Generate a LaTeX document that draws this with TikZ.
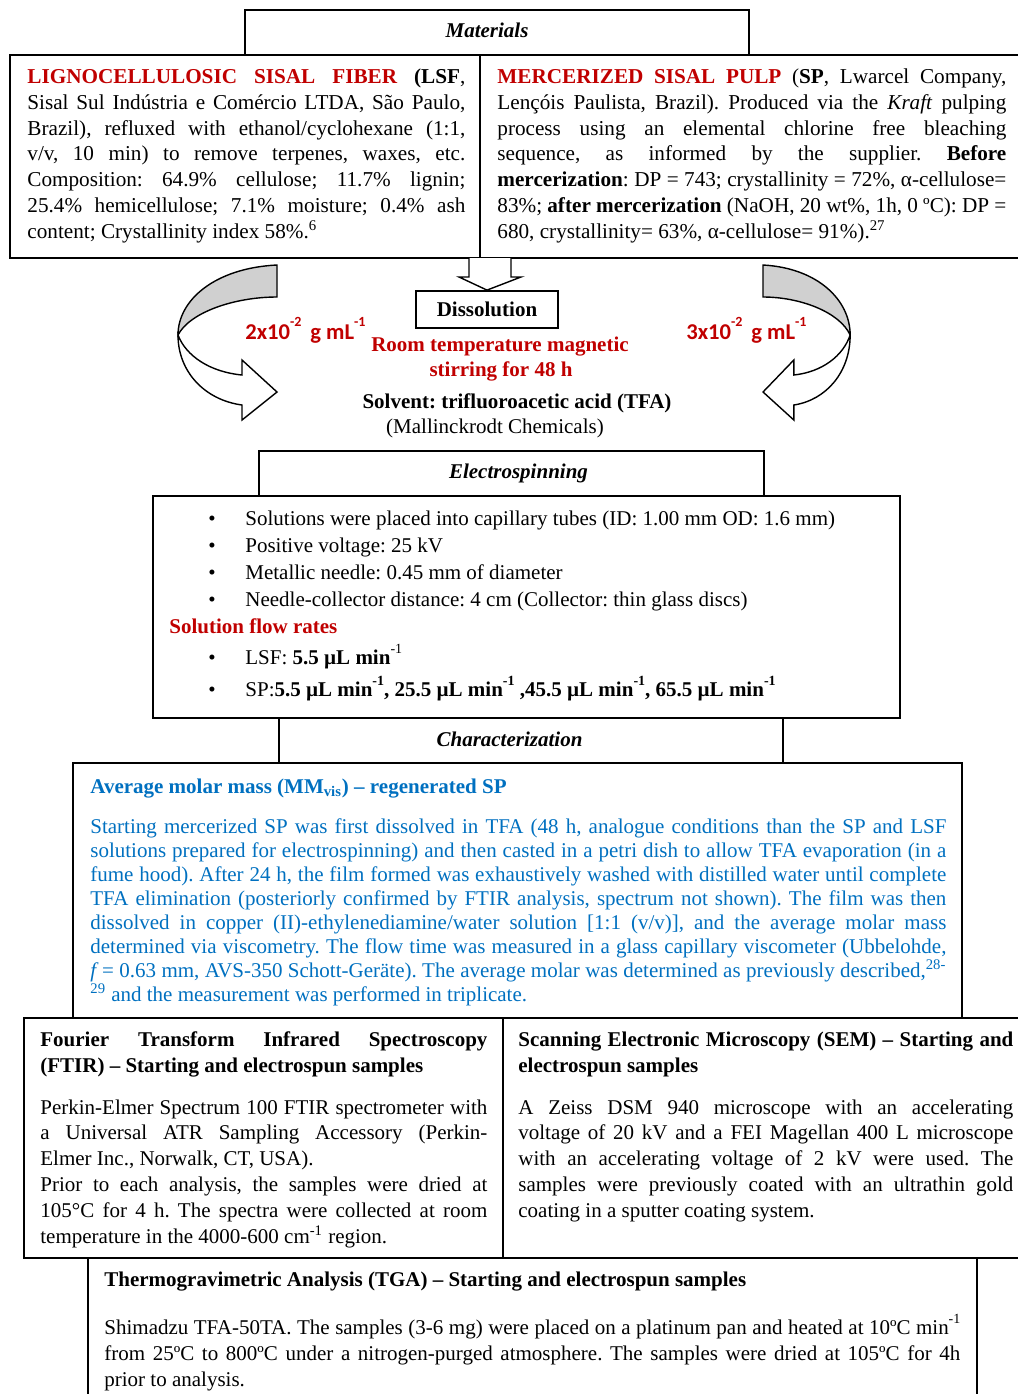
\documentclass[tikz,border=0pt]{standalone}
\usepackage{fontspec}
\setmainfont{Liberation Serif}
\newfontfamily\calfont{Carlito}
\usepackage{tikz}
\usetikzlibrary{calc}

\definecolor{matred}{RGB}{192,0,0}
\definecolor{charblue}{RGB}{0,112,192}
\definecolor{backgray}{RGB}{208,208,208}

\frenchspacing
\newcommand{\bodysize}{\fontsize{10.5}{12.9}\selectfont}
\newcommand{\hsup}[1]{\raisebox{1.1ex}{\scriptsize #1}}

\tikzset{
  frame/.style={draw, line width=0.9pt},
  para/.style={anchor=base west, inner sep=0pt, align=justify, font=\bodysize},
  txt/.style={anchor=base west, inner sep=0pt, font=\bodysize},
  head/.style={anchor=base, inner sep=0pt, font=\bodysize\bfseries\itshape},
  redtxt/.style={anchor=base, inner sep=0pt, text=matred, font=\bodysize\bfseries},
  conc/.style={anchor=base west, inner sep=0pt, text=matred, font={\calfont\bfseries\fontsize{11.3}{13}\selectfont}},
  twist/.pic={
    \filldraw[fill=backgray, line width=0.7pt] (277,265) .. controls (215,268) and (178,300) .. (178,335)
        .. controls (190,312) and (235,297) .. (277,297) -- cycle;
    \filldraw[fill=white, line width=0.7pt] (178,335) .. controls (178,372) and (205,400) .. (242,405)
        -- (242,420) -- (277,392) -- (242,360) -- (242,375) .. controls (210,372) and (186,356) .. (178,335) -- cycle;
  }
}

\begin{document}
\begin{tikzpicture}[x=0.5pt, y=-0.5pt]
\useasboundingbox (0,0) rectangle (1018,1394);

\draw[frame] (245,10) rectangle (749,55);
\draw[frame] (10,55) rectangle (480,258);
\draw[frame] (480,55) rectangle (1024,258);
\node[head] (mat) at (487,37) {Materials};

\node[para, text width=219pt, font=\fontsize{10.6}{12.9}\selectfont] (lsf) at (27,83.5) {%
{\bfseries\color{matred}LIGNOCELLULOSIC SISAL FIBER} \textbf{(LSF},\linebreak
Sisal Sul Indústria e Comércio LTDA, São Paulo,\linebreak
Brazil), refluxed with ethanol/cyclohexane (1:1,\linebreak
v/v, 10 min) to remove terpenes, waxes, etc.\linebreak
Composition: 64.9\% cellulose; 11.7\% lignin;\linebreak
25.4\% hemicellulose; 7.1\% moisture; 0.4\% ash\linebreak
content; Crystallinity index 58\%.\textsuperscript{6}};

\node[para, text width=254.5pt, font=\fontsize{10.6}{12.9}\selectfont] (sp) at (497,83.5) {%
{\bfseries\color{matred}MERCERIZED SISAL PULP} (\textbf{SP}, Lwarcel Company,\linebreak
Lençóis Paulista, Brazil). Produced via the \textit{Kraft} pulping\linebreak
process using an elemental chlorine free bleaching\linebreak
sequence, as informed by the supplier. \textbf{Before}\linebreak
\textbf{mercerization}: DP = 743; crystallinity = 72\%, α-cellulose=\linebreak
83\%; \textbf{after mercerization} (NaOH, 20 wt\%, 1h, 0 ºC): DP =\linebreak
680, crystallinity= 63\%, α-cellulose= 91\%).\textsuperscript{27}};

\node[frame, minimum width=71pt, minimum height=18.5pt, font=\bodysize\bfseries] (diss) at (487,309.5) {Dissolution};
\draw[line width=0.7pt, fill=white] (469,258) -- (469,277) -- (459,277) -- (diss.north)
    -- (521,277) -- (511,277) -- (511,258);

\pic at (0,0) {twist};
\pic[xscale=-0.88] at (1006.8,0) {twist};

\node[conc] (conclsf) at (245,339) {2x10\hsup{-2}\, g mL\hsup{-1}};
\node[conc] (concsp) at (686,339) {3x10\hsup{-2}\, g mL\hsup{-1}};
\node[redtxt] (room) at (500,351) {Room temperature magnetic};
\node[redtxt] (stir) at (501,376) {stirring for 48 h};
\node[txt, anchor=base, font=\bodysize\bfseries] (solv) at (517,408) {Solvent: trifluoroacetic acid (TFA)};
\node[txt, anchor=base] (mall) at (495,433) {(Mallinckrodt Chemicals)};

\draw[frame] (259,451) rectangle (764,496);
\draw[frame] (153,496) rectangle (900,718);
\node[head] (elec) at (518.5,478) {Electrospinning};
\node[txt] (b1) at (208,525) {\textbullet};
\node[txt] (e1) at (245,525) {Solutions were placed into capillary tubes (ID: 1.00 mm OD: 1.6 mm)};
\node[txt] (b2) at (208,552) {\textbullet};
\node[txt] (e2) at (245,552) {Positive voltage: 25 kV};
\node[txt] (b3) at (208,579) {\textbullet};
\node[txt] (e3) at (245,579) {Metallic needle: 0.45 mm of diameter};
\node[txt] (b4) at (208,606) {\textbullet};
\node[txt] (e4) at (245,606) {Needle-collector distance: 4 cm (Collector: thin glass discs)};
\node[txt, text=matred, font=\bodysize\bfseries] (flow) at (169,633) {Solution flow rates};
\node[txt] (b5) at (208,664) {\textbullet};
\node[txt] (rlsf) at (245,664) {LSF: \textbf{5.5 µL min}\hsup{-1}};
\node[txt] (b6) at (208,696) {\textbullet};
\node[txt] (rsp) at (245,696) {SP:\textbf{5.5 µL min\hsup{-1}, 25.5 µL min\hsup{-1} ,45.5 µL min\hsup{-1}, 65.5 µL min\hsup{-1}}};

\draw[frame] (279,718) rectangle (783,763);
\draw[frame] (73,763) rectangle (962,1018);
\node[head] (char) at (509.5,746) {Characterization};
\node[txt, text=charblue, font=\bodysize\bfseries] (mmhead) at (90,793) {Average molar mass (MM\textsubscript{vis}) – regenerated SP};
\node[para, text width=428pt, text=charblue, font=\fontsize{10.5}{12}\selectfont] (mmtext) at (90,833) {%
Starting mercerized SP was first dissolved in TFA (48 h, analogue conditions than the SP and LSF\linebreak
solutions prepared for electrospinning) and then casted in a petri dish to allow TFA evaporation (in a\linebreak
fume hood). After 24 h, the film formed was exhaustively washed with distilled water until complete\linebreak
TFA elimination (posteriorly confirmed by FTIR analysis, spectrum not shown). The film was then\linebreak
dissolved in copper (II)-ethylenediamine/water solution [1:1 (v/v)], and the average molar mass\linebreak
determined via viscometry. The flow time was measured in a glass capillary viscometer (Ubbelohde,\linebreak
\textit{f}\,= 0.63 mm, AVS-350 Schott-Geräte). The average molar was determined as previously described,\textsuperscript{28-}\linebreak
\textsuperscript{29} and the measurement was performed in triplicate.};

\draw[frame] (24,1018) rectangle (503,1258);
\draw[frame] (503,1018) rectangle (1024,1258);
\node[para, text width=223.5pt, font=\fontsize{10.5}{13}\selectfont\bfseries] (ftirhead) at (40,1046) {%
Fourier Transform Infrared Spectroscopy\linebreak
(FTIR) – Starting and electrospun samples};
\node[para, text width=223.5pt] (ftirtext) at (40,1114) {%
Perkin-Elmer Spectrum 100 FTIR spectrometer with\linebreak
a Universal ATR Sampling Accessory (Perkin-\linebreak
Elmer Inc., Norwalk, CT, USA).\\
Prior to each analysis, the samples were dried at\linebreak
105°C for 4 h. The spectra were collected at room\linebreak
temperature in the 4000-600 cm\textsuperscript{-1} region.};
\node[para, text width=247.5pt, font=\fontsize{10.5}{13}\selectfont\bfseries] (semhead) at (518,1046) {%
Scanning Electronic Microscopy (SEM) – Starting and\linebreak
electrospun samples};
\node[para, text width=247.5pt] (semtext) at (518,1114) {%
A Zeiss DSM 940 microscope with an accelerating\linebreak
voltage of 20 kV and a FEI Magellan 400 L microscope\linebreak
with an accelerating voltage of 2 kV were used. The\linebreak
samples were previously coated with an ultrathin gold\linebreak
coating in a sputter coating system.};

\draw[frame] (88,1400) -- (88,1258) -- (977,1258) -- (977,1400);
\node[txt, font=\bodysize\bfseries] (tgahead) at (104,1286) {Thermogravimetric Analysis (TGA) – Starting and electrospun samples};
\node[para, text width=428pt, font=\fontsize{10.5}{13}\selectfont] (tgatext) at (104,1334) {%
Shimadzu TFA-50TA. The samples (3-6 mg) were placed on a platinum pan and heated at 10ºC min\hsup{-1}\linebreak
from 25ºC to 800ºC under a nitrogen-purged atmosphere. The samples were dried at 105ºC for 4h\linebreak
prior to analysis.};
\end{tikzpicture}
\end{document}
